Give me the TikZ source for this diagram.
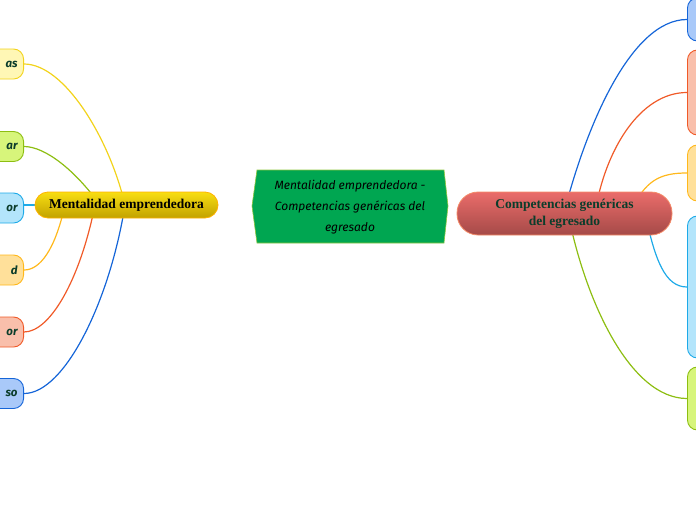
\documentclass[tikz,border=0pt]{standalone}
\usepackage{fontspec}
\newfontfamily\handfont{Fira Sans}
\newfontfamily\headfont{Liberation Serif}
\pgfdeclarelayer{background}
\pgfsetlayers{background,main}
\definecolor{cyl}{HTML}{F2D31B}\definecolor{cylf}{HTML}{FFF7B5}
\definecolor{cgr}{HTML}{8DBE12}\definecolor{cgrf}{HTML}{D7F57B}
\definecolor{clb}{HTML}{1EAAE8}\definecolor{clbf}{HTML}{B3E5FB}
\definecolor{cor}{HTML}{FFB81C}\definecolor{corf}{HTML}{FFE09A}
\definecolor{csa}{HTML}{F05A28}\definecolor{csaf}{HTML}{F9BFAB}
\definecolor{cbl}{HTML}{1565D8}\definecolor{cblf}{HTML}{A9C9F9}
\definecolor{ctxt}{HTML}{0B3D2B}
\definecolor{cgreen}{HTML}{00A651}\definecolor{cgreenb}{HTML}{8DC63F}
\definecolor{ytop}{HTML}{F8DE12}\definecolor{ybot}{HTML}{C2A200}
\definecolor{rtop}{HTML}{EA6C6A}\definecolor{rbot}{HTML}{A54A48}
\tikzset{
  conn/.style={line width=1.2pt},
  leafl/.style={draw, line width=0.9pt, rounded corners=10pt, anchor=east, minimum height=30pt,
     text width=70pt, align=right, inner xsep=6pt, text=ctxt,
     font=\handfont\bfseries\itshape\fontsize{11.5}{13}\selectfont},
  leafr/.style={draw, line width=0.9pt, rounded corners=10pt, anchor=west, minimum width=70pt},
}
\begin{document}
\begin{tikzpicture}[x=1pt,y=-1pt]
\useasboundingbox (0,0) rectangle (696,520);
% left leaves
\node[leafl, fill=cylf, draw=cyl] (l1) at (24,64) {as};
\node[leafl, fill=cgrf, draw=cgr] (l2) at (24,146.5) {ar};
\node[leafl, fill=clbf, draw=clb] (l3) at (24,208) {or};
\node[leafl, fill=corf, draw=cor] (l4) at (24,270) {d};
\node[leafl, fill=csaf, draw=csa] (l5) at (24,332) {or};
\node[leafl, fill=cblf, draw=cbl] (l6) at (24,393.5) {so};
% right leaves
\node[leafr, fill=cblf, draw=cbl, minimum height=43pt] (r1) at (687,19.5) {};
\node[leafr, fill=csaf, draw=csa, minimum height=85pt] (r2) at (687,92.5) {};
\node[leafr, fill=corf, draw=cor, minimum height=56pt] (r3) at (687,173) {};
\node[leafr, fill=clbf, draw=clb, minimum height=142pt] (r4) at (687,287) {};
\node[leafr, fill=cgrf, draw=cgr, minimum height=63pt] (r5) at (687,398.5) {};
% main nodes
\node[draw=orange!60!yellow, line width=0.8pt, rounded corners=13pt, minimum width=183pt, minimum height=26pt,
  top color=ytop, bottom color=ybot, inner sep=0pt,
  font=\headfont\bfseries\fontsize{13.5}{15}\selectfont] (ment) at (126.5,205) {Mentalidad emprendedora};
\node[draw=csa!70!white, line width=0.8pt, rounded corners=21pt, minimum width=215pt, minimum height=43pt,
  top color=rtop, bottom color=rbot, inner sep=0pt, text=ctxt, align=center,
  font=\headfont\bfseries\fontsize{13.5}{17}\selectfont] (comp) at (564.5,213.5) {Competencias genéricas\\del egresado};
\draw[fill=cgreen, draw=cgreenb, line width=0.6pt] (257,170) -- (444,170) -- (448,206) -- (444,243) -- (257,243) -- (252,206) -- cycle;
\node[align=center, font=\handfont\itshape\fontsize{12}{21}\selectfont, text=black] (center) at (350,207)
  {Mentalidad emprendedora -\\Competencias genéricas del\\egresado};
% connectors
\begin{pgfonlayer}{background}
\draw[conn, cyl] (125,205) .. controls (110,140) and (65,64) .. (l1.east);
\draw[conn, cgr] (100,205) .. controls (75,170) and (45,146.5) .. (l2.east);
\draw[conn, clb] (ment.center) -- (ment.center -| l3.east);
\draw[conn, cor] (65,205) .. controls (55,250) and (40,270) .. (l4.east);
\draw[conn, csa] (95,205) .. controls (80,280) and (50,332) .. (l5.east);
\draw[conn, cbl] (125,205) .. controls (110,300) and (65,393.5) .. (l6.east);
\draw[conn, cbl] (564,213) .. controls (585,130) and (630,19.5) .. (r1.west);
\draw[conn, csa] (595,213) .. controls (605,150) and (640,92.5) .. (r2.west);
\draw[conn, cor] (630,213) .. controls (645,180) and (660,173) .. (r3.west);
\draw[conn, clb] (645,213) .. controls (655,260) and (665,287) .. (r4.west);
\draw[conn, cgr] (568,213) .. controls (585,300) and (630,398.5) .. (r5.west);
\end{pgfonlayer}
\end{tikzpicture}
\end{document}
